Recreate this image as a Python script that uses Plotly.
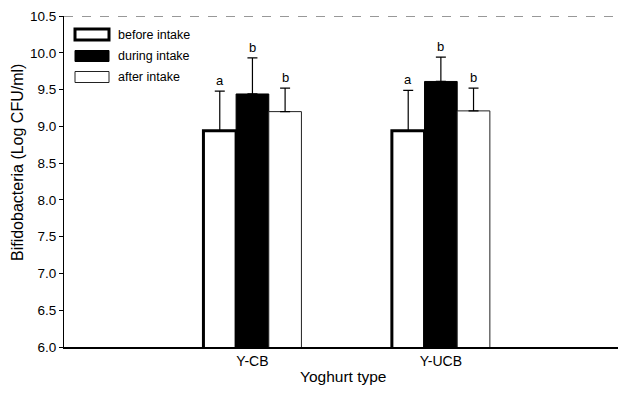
import plotly.graph_objects as go

categories = ["Y-CB", "Y-UCB"]
series_names = ["before intake", "during intake", "after intake"]
before_vals = [8.94, 8.94]
during_vals = [9.44, 9.61]
after_vals = [9.20, 9.21]
before_err = [0.54, 0.55]
during_err = [0.49, 0.33]
after_err = [0.32, 0.31]
before_letters = ["a", "a"]
during_letters = ["b", "b"]
after_letters = ["b", "b"]

FONT = "Liberation Sans, Arial, sans-serif"
# the page body has an 8px margin; the figure is sized so the plot area lands
# where the reference has it
OFF = 8
W, H = 610, 382
PL, PR, PT, PB = 64, 618, 16, 347   # plot area edges in page pixels
ML, MR, MT, MB = PL - OFF, OFF + W - PR, PT - OFF, OFF + H - PB

styles = [
    dict(color="white", line=dict(color="black", width=3)),
    dict(color="black", line=dict(color="black", width=1)),
    dict(color="white", line=dict(color="#222", width=1)),
]

fig = go.Figure()
for name, vals, errs, st in zip(series_names,
                                [before_vals, during_vals, after_vals],
                                [before_err, during_err, after_err],
                                styles):
    fig.add_trace(go.Bar(
        name=name, x=categories, y=vals,
        marker=dict(color=st["color"], line=st["line"]),
        error_y=dict(type="data", array=errs, arrayminus=[0]*len(errs),
                     symmetric=False, color="black", thickness=1.2, width=5),
        offsetgroup=name, showlegend=False,
    ))

# significance letters
for i, (vals, errs, letters) in enumerate([(before_vals, before_err, before_letters),
                                           (during_vals, during_err, during_letters),
                                           (after_vals, after_err, after_letters)]):
    offsets = [-1, 0, 1]
    for j, cat in enumerate(categories):
        fig.add_annotation(
            x=j + offsets[i] * 0.173, xref="x",
            y=vals[j] + errs[j], yref="y",
            text=letters[j], showarrow=False, yanchor="bottom", yshift=1,
            font=dict(family=FONT, size=13, color="black"),
        )

# top dashed frame line
fig.add_shape(type="line", xref="paper", yref="y", x0=0, x1=1, y0=10.5, y1=10.5,
              line=dict(color="#333", width=1.2, dash="dash"))

pw = PR - PL
ph = PB - PT
def px_x(x):
    return (x - PL) / pw
def px_y(y):
    return 1 - (y - PT) / ph

# custom legend (wide swatches like the reference)
legend_rows = [(34.5, styles[0]), (56, styles[1]), (77, styles[2])]
for (yc, st), name in zip(legend_rows, series_names):
    fig.add_shape(type="rect", xref="paper", yref="paper",
                  x0=px_x(75), x1=px_x(109), y0=px_y(yc + 5.5), y1=px_y(yc - 5.5),
                  fillcolor=st["color"], line=st["line"])
    fig.add_annotation(xref="paper", yref="paper", x=px_x(116), y=px_y(yc),
                       xanchor="left", yanchor="middle", showarrow=False,
                       text=name, font=dict(family=FONT, size=12.5, color="black"))

# axis titles
fig.add_annotation(xref="paper", yref="paper", x=px_x(343), y=px_y(377),
                   xanchor="center", yanchor="middle", showarrow=False,
                   text="Yoghurt type", font=dict(family=FONT, size=15.5, color="black"))
fig.add_annotation(xref="paper", yref="paper", x=px_x(17), y=px_y(163),
                   xanchor="center", yanchor="middle", showarrow=False, textangle=-90,
                   text="Bifidobacteria (Log CFU/ml)", font=dict(family=FONT, size=16, color="black"))

fig.update_layout(
    width=W, height=H,
    margin=dict(l=ML, r=MR, t=MT, b=MB, autoexpand=False),
    paper_bgcolor="white", plot_bgcolor="white",
    barmode="group", bargap=0.48, bargroupgap=0,
    font=dict(family=FONT, size=13, color="black"),
    showlegend=False,
    xaxis=dict(range=[-1, 1.94], showline=True, linecolor="black", linewidth=1.5,
               ticks="", showgrid=False, zeroline=False, automargin=False,
               tickfont=dict(size=14)),
    yaxis=dict(range=[6.0, 10.5], dtick=0.5, tick0=6.0, tickformat=".1f",
               showline=True, linecolor="black", linewidth=1.2,
               ticks="outside", ticklen=4, tickcolor="black",
               showgrid=False, zeroline=False, automargin=False,
               tickfont=dict(size=13.5)),
)

fig.write_html("out.html")
